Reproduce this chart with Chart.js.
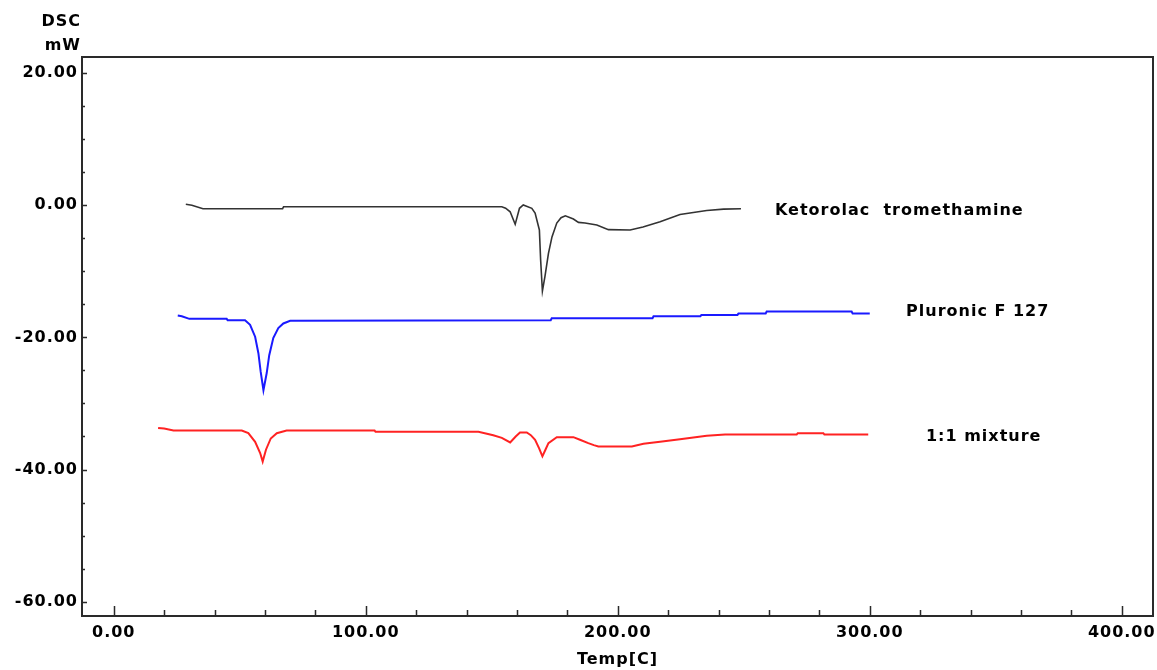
<!DOCTYPE html>
<html>
<head>
<meta charset="utf-8">
<script src="https://cdn.jsdelivr.net/npm/chart.js@4.4.1/dist/chart.umd.min.js"></script>
<style>
  html, body { margin: 0; padding: 0; background: #fff; }
  canvas { display: block; }
</style>
</head>
<body>
<canvas id="c" width="1157" height="670"></canvas>
<script>
// ---- Data ----
const seriesNames = ['Ketorolac  tromethamine', 'Pluronic F 127', '1:1 mixture'];

const tempKetorolac = [28.6, 31, 35.4, 67.0, 67.4, 154, 155.5, 157.3, 159.3, 161, 162.5, 165.9, 167.2, 168.9, 169.4, 170.1, 171.1, 172.5, 173.9, 175.8, 177.5, 179.2, 182.4, 184.4, 187, 191.7, 196.3, 204.9, 210, 216.8, 224.7, 235.3, 242, 248.9];
const dscKetorolac  = [0.14, 0.0, -0.53, -0.53, -0.23, -0.23, -0.45, -1.0, -2.9, -0.47, 0.03, -0.47, -1.2, -3.75, -8.3, -13.0, -10.8, -7.3, -4.8, -2.7, -1.9, -1.6, -2.1, -2.6, -2.7, -3.0, -3.7, -3.75, -3.3, -2.5, -1.4, -0.8, -0.6, -0.55];

const tempPluronic = [25.4, 27, 30, 44.8, 45.2, 52.1, 54.1, 56.1, 57.4, 58.3, 59.4, 60.7, 61.7, 63.3, 65.3, 67.3, 70, 173.4, 173.8, 213.8, 214.2, 232.8, 233.2, 247.5, 247.9, 258.7, 259.1, 292.8, 293.2, 300];
const dscPluronic  = [-16.7, -16.8, -17.2, -17.2, -17.4, -17.4, -18.1, -19.9, -22.4, -25.2, -28.0, -25.4, -22.7, -20.1, -18.6, -17.9, -17.5, -17.4, -17.1, -17.1, -16.8, -16.8, -16.6, -16.6, -16.4, -16.4, -16.1, -16.1, -16.4, -16.4];

const tempMixture = [17.6, 20, 23.7, 50.8, 53.4, 56.1, 58.1, 59.1, 60.4, 62.3, 64.7, 68.6, 103.5, 103.9, 144.7, 150.6, 154, 157.3, 159.5, 161.2, 163.9, 165.5, 167.2, 168.8, 170.1, 171.3, 172.5, 175.8, 182.4, 185, 188.3, 190.5, 192.3, 205.6, 210.2, 216.8, 224.7, 235.3, 242.6, 271, 271.4, 281.6, 282, 299.4];
const dscMixture  = [-33.7, -33.8, -34.1, -34.1, -34.5, -35.8, -37.5, -38.8, -37.0, -35.3, -34.5, -34.1, -34.1, -34.3, -34.3, -34.8, -35.2, -35.9, -35.0, -34.4, -34.4, -34.8, -35.5, -36.8, -38.0, -37.0, -36.0, -35.1, -35.1, -35.5, -36.0, -36.3, -36.5, -36.5, -36.1, -35.8, -35.4, -34.9, -34.7, -34.7, -34.5, -34.5, -34.7, -34.7];

const xTickValues = [0, 100, 200, 300, 400];
const yTickValues = [-60, -40, -20, 0, 20];
const xAxisTitle = 'Temp[C]';
const yAxisTitle = ['DSC', 'mW'];

// ---- helpers ----
function pts(xs, ys) { return xs.map((x, i) => ({ x: x, y: ys[i] })); }
const FONT = { family: '"DejaVu Sans", Verdana, sans-serif', weight: 'bold', size: 16 };
const FONT_CSS = 'bold 16px "DejaVu Sans", Verdana, sans-serif';

const decor = {
  id: 'decor',
  beforeDraw(chart) {
    const ctx = chart.ctx;
    ctx.save();
    ctx.fillStyle = '#fff';
    ctx.fillRect(0, 0, chart.width, chart.height);
    ctx.restore();
    ctx.letterSpacing = '1px';
  },
  afterDraw(chart) {
    const { ctx, chartArea: a, scales: { x, y } } = chart;
    ctx.save();
    ctx.letterSpacing = '1px';
    // frame
    ctx.strokeStyle = '#2a2a2a';
    ctx.lineWidth = 2;
    ctx.strokeRect(a.left, a.top, a.right - a.left, a.bottom - a.top);
    // inward ticks
    ctx.lineWidth = 1.5;
    ctx.beginPath();
    for (let v = 0; v <= 400; v += 20) {
      const px = Math.round(x.getPixelForValue(v)) + 0.5;
      const len = v % 100 === 0 ? 10 : 6;
      ctx.moveTo(px, a.bottom);
      ctx.lineTo(px, a.bottom - len);
    }
    for (let v = -60; v <= 20; v += 5) {
      const py = Math.round(y.getPixelForValue(v)) + 0.5;
      const len = v % 20 === 0 ? 5 : 3;
      ctx.moveTo(a.left, py);
      ctx.lineTo(a.left + len, py);
    }
    ctx.stroke();
    // series labels
    ctx.font = FONT_CSS;
    ctx.fillStyle = '#000';
    ctx.textAlign = 'left';
    ctx.textBaseline = 'middle';
    const anchors = [[262.4, -0.9], [314.4, -16.2], [322.3, -35.1]];
    seriesNames.forEach((n, i) => {
      ctx.fillText(n, x.getPixelForValue(anchors[i][0]), y.getPixelForValue(anchors[i][1]));
    });
    // y-axis unit title (horizontal, top-left)
    ctx.textAlign = 'right';
    ctx.fillText(yAxisTitle[0], a.left - 1, 22);
    ctx.fillText(yAxisTitle[1], a.left - 1, 46);
    ctx.restore();
  }
};

new Chart(document.getElementById('c'), {
  type: 'line',
  data: {
    datasets: [
      { label: seriesNames[0], data: pts(tempKetorolac, dscKetorolac), borderColor: '#333333', borderWidth: 1.6 },
      { label: seriesNames[1], data: pts(tempPluronic, dscPluronic), borderColor: '#1a1aff', borderWidth: 2 },
      { label: seriesNames[2], data: pts(tempMixture, dscMixture), borderColor: '#ff2222', borderWidth: 2 }
    ]
  },
  options: {
    responsive: false,
    animation: false,
    elements: { point: { radius: 0 }, line: { tension: 0, fill: false } },
    layout: { padding: { top: 57, right: 4, left: 0, bottom: 0 } },
    plugins: { legend: { display: false }, tooltip: { enabled: false }, title: { display: false } },
    scales: {
      x: {
        type: 'linear', position: 'bottom', min: -12.6, max: 412.4,
        grid: { display: false, drawTicks: false },
        border: { display: false },
        afterBuildTicks: s => { s.ticks = xTickValues.map(v => ({ value: v })); },
        ticks: { stepSize: 100, includeBounds: false, padding: 7, maxRotation: 0, autoSkip: false, color: '#000', font: FONT,
                 callback: v => Number(v).toFixed(2) },
        title: { display: true, text: xAxisTitle, color: '#000', font: FONT, padding: { top: 0, bottom: 1 } },
        afterFit: s => { s.height = 54; s.paddingLeft = 0; s.paddingRight = 0; }
      },
      y: {
        type: 'linear', position: 'left', min: -62.16, max: 22.42,
        grid: { display: false, drawTicks: false },
        border: { display: false },
        afterBuildTicks: s => { s.ticks = yTickValues.map(v => ({ value: v })); },
        ticks: { stepSize: 20, includeBounds: false, padding: 4, autoSkip: false, color: '#000', font: FONT,
                 callback: v => Number(v).toFixed(2) },
        afterFit: s => { s.width = 82; s.paddingTop = 0; s.paddingBottom = 0; }
      }
    }
  },
  plugins: [decor]
});
</script>
</body>
</html>
